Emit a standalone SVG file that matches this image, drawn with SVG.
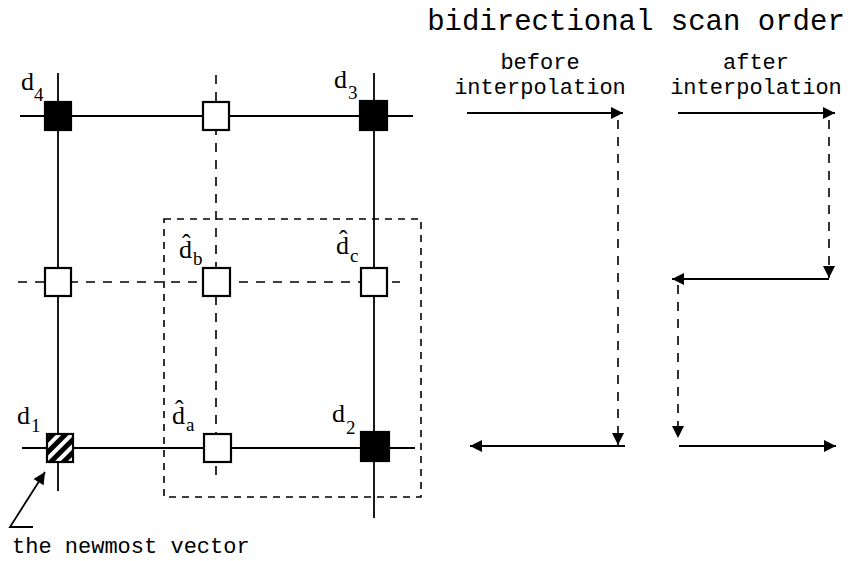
<svg xmlns="http://www.w3.org/2000/svg" width="853" height="561" viewBox="0 0 853 561">
  <style>
    .solid { stroke: #000; stroke-width: 1.8; fill: none; }
    .dash { stroke: #000; stroke-width: 1.6; fill: none; stroke-dasharray: 9 8; }
    .box { stroke: #000; stroke-width: 1.6; fill: none; stroke-dasharray: 7 6; }
    .node { stroke: #000; stroke-width: 2.2; }
    .empty { fill: #fff; }
    .full { fill: #000; }
    .lbl { font-family: "Liberation Serif", serif; font-size: 26px; fill: #000; }
    .sub { font-family: "Liberation Serif", serif; font-size: 19px; fill: #000; }
    .mono { font-family: "Liberation Mono", monospace; fill: #000; }
  </style>
  <defs>
    <marker id="arr" viewBox="0 0 10 10" refX="10" refY="5" markerWidth="14" markerHeight="12" markerUnits="userSpaceOnUse" orient="auto">
      <path d="M0,0 L10,5 L0,10 z" fill="#000"/>
    </marker>
    <pattern id="hatch" patternUnits="userSpaceOnUse" width="9" height="9" patternTransform="rotate(45)">
      <rect width="9" height="9" fill="#fff"/>
      <rect width="5" height="9" fill="#000"/>
    </pattern>
  </defs>

  <!-- grid lines -->
  <g id="connectors">
    <line class="solid" x1="20" y1="116" x2="413" y2="116"/>
    <line class="solid" x1="22" y1="448" x2="415" y2="448"/>
    <line class="solid" x1="58" y1="73" x2="58" y2="491"/>
    <line class="solid" x1="374" y1="73" x2="374" y2="518"/>
    <line class="dash" x1="216" y1="75" x2="216" y2="480"/>
    <line class="dash" x1="18" y1="282" x2="400" y2="282"/>
    <rect class="box" x="164" y="219" width="257" height="278"/>

    <!-- pointer to the newmost vector -->
    <polyline class="solid" points="33,527 10,527 45,472" marker-end="url(#arr)"/>

    <!-- scan order: before interpolation -->
    <line class="solid" x1="467" y1="113" x2="623" y2="113" marker-end="url(#arr)"/>
    <line class="dash" x1="618" y1="120" x2="618" y2="445" marker-end="url(#arr)"/>
    <line class="solid" x1="625" y1="446" x2="470" y2="446" marker-end="url(#arr)"/>

    <!-- scan order: after interpolation -->
    <line class="solid" x1="678" y1="113" x2="835" y2="113" marker-end="url(#arr)"/>
    <line class="dash" x1="829" y1="120" x2="829" y2="278" marker-end="url(#arr)"/>
    <line class="solid" x1="829" y1="279" x2="672" y2="279" marker-end="url(#arr)"/>
    <line class="dash" x1="678" y1="285" x2="678" y2="438" marker-end="url(#arr)"/>
    <line class="solid" x1="679" y1="446" x2="836" y2="446" marker-end="url(#arr)"/>
  </g>

  <!-- vectors -->
  <g id="d4"><rect class="node full" x="45" y="102" width="26" height="28"/>
    <text class="lbl" x="21" y="90">d</text><text class="sub" x="34" y="101">4</text></g>
  <g id="top-mid"><rect class="node empty" x="203" y="102" width="26" height="28"/></g>
  <g id="d3"><rect class="node full" x="360" y="101" width="27" height="29"/>
    <text class="lbl" x="334" y="88">d</text><text class="sub" x="348" y="99">3</text></g>

  <g id="mid-left"><rect class="node empty" x="45" y="268" width="26" height="28"/></g>
  <g id="db"><rect class="node empty" x="203" y="268" width="27" height="28"/>
    <text class="lbl" x="179" y="258">d̂</text><text class="sub" x="193" y="265">b</text></g>
  <g id="dc"><rect class="node empty" x="361" y="268" width="26" height="28"/>
    <text class="lbl" x="336" y="254">d̂</text><text class="sub" x="350" y="262">c</text></g>

  <g id="d1"><rect class="node" fill="url(#hatch)" x="47" y="434" width="26" height="28"/>
    <text class="lbl" x="17" y="424">d</text><text class="sub" x="31" y="432">1</text></g>
  <g id="da"><rect class="node empty" x="204" y="434" width="27" height="28"/>
    <text class="lbl" x="172" y="424">d̂</text><text class="sub" x="186" y="431">a</text></g>
  <g id="d2"><rect class="node full" x="361" y="432" width="28" height="29"/>
    <text class="lbl" x="332" y="422">d</text><text class="sub" x="346" y="434">2</text></g>

  <!-- captions -->
  <g id="captions">
    <text class="mono" x="636" y="30" font-size="29" text-anchor="middle">bidirectional scan order</text>
    <text class="mono" x="540" y="69" font-size="22" text-anchor="middle">before</text>
    <text class="mono" x="540" y="94" font-size="22" text-anchor="middle">interpolation</text>
    <text class="mono" x="756" y="69" font-size="22" text-anchor="middle">after</text>
    <text class="mono" x="756" y="94" font-size="22" text-anchor="middle">interpolation</text>
    <text class="mono" x="12" y="553" font-size="22">the newmost vector</text>
  </g>
</svg>
